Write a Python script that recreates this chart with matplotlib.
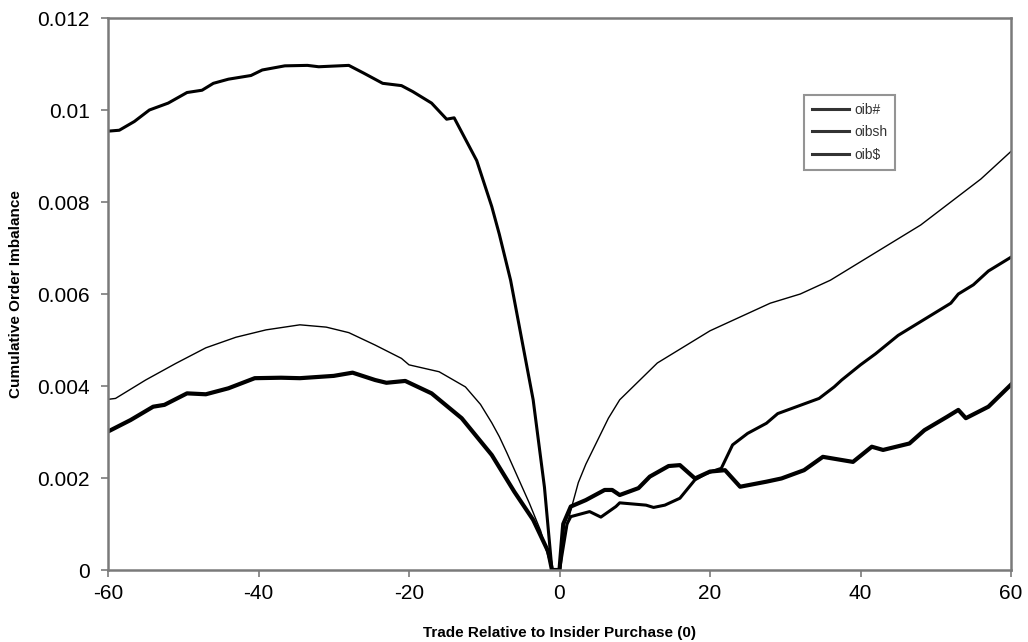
import matplotlib
matplotlib.use("Agg")
import matplotlib.pyplot as plt

plt.rcParams['font.family'] = ['Liberation Sans', 'DejaVu Sans']

# oib# (medium line)
x_num = [-60, -58.5, -56.5, -54.5, -52, -49.5, -47.5, -46, -44, -41, -39.5, -36.5, -33.5, -32,
         -28, -26, -23.5, -21, -19.5, -17, -15, -14, -11, -9, -8, -6.5, -5, -3.5, -2, -1,
         0, 1, 1.5, 4, 5.5, 7.5, 8, 11.5, 12.5, 14, 16, 18, 19.5, 21.5, 23, 25, 27.5, 29,
         31.5, 34.5, 36.5, 37.5, 40, 42, 45, 47, 50, 52, 53, 55, 57, 60]
y_num = [0.00954, 0.00956, 0.00975, 0.0100, 0.01015, 0.01038, 0.01043, 0.01058, 0.01067, 0.01075,
         0.01087, 0.01096, 0.01097, 0.01094, 0.01097, 0.0108, 0.01058, 0.01053, 0.0104, 0.01015,
         0.0098, 0.00983, 0.0089, 0.0079, 0.0073, 0.0063, 0.0050, 0.0037, 0.0018, 0.0,
         0.0, 0.0010, 0.00116, 0.00127, 0.00115, 0.00138, 0.00146, 0.00141, 0.00136, 0.00141,
         0.00156, 0.00196, 0.0021, 0.00221, 0.00272, 0.00297, 0.00319, 0.0034, 0.00355, 0.00373,
         0.00398, 0.00413, 0.00446, 0.0047, 0.0051, 0.0053, 0.0056, 0.0058, 0.0060, 0.0062,
         0.0065, 0.0068]

# oibsh (thin line)
x_sh = [-60, -59, -55, -51, -47, -43, -39, -34.5, -31, -28, -24.5, -21, -20, -16, -12.5, -10.5,
        -9, -8, -7, -5.5, -4, -2.5, -1, 0, 0.5, 1.5, 2.5, 3.5, 5, 6.5, 8, 10.5, 13, 16, 20, 24,
        28, 32, 36, 40, 44, 48, 52, 56, 60]
y_sh = [0.00371, 0.00373, 0.00413, 0.00449, 0.00483, 0.00506, 0.00522, 0.00533, 0.00528, 0.00516,
        0.00489, 0.0046, 0.00446, 0.00431, 0.00398, 0.0036, 0.0032, 0.0029, 0.00255, 0.0020,
        0.00145, 0.00085, 0.0, 0.0, 0.0006, 0.0013, 0.0019, 0.0023, 0.0028, 0.0033, 0.0037,
        0.0041, 0.0045, 0.0048, 0.0052, 0.0055, 0.0058, 0.0060, 0.0063, 0.0067, 0.0071, 0.0075,
        0.0080, 0.0085, 0.0091]

# oib$ (thick line)
x_dol = [-60, -57, -54, -52.5, -49.5, -47, -44, -40.5, -37, -34.5, -30, -27.5, -24.5, -23, -20.5,
         -17, -13, -9, -6, -3.5, -1.5, -1, 0, 0.5, 1.5, 3.5, 6, 7, 8, 10.5, 12, 14.5, 16, 18, 20,
         22, 24, 27.5, 29.5, 32.5, 35, 39, 41.5, 43, 46.5, 48.5, 51.5, 53, 54, 57, 60]
y_dol = [0.00301, 0.00326, 0.00355, 0.00359, 0.00384, 0.00382, 0.00395, 0.00417, 0.00418, 0.00417,
         0.00422, 0.00429, 0.00413, 0.00407, 0.00411, 0.00384, 0.0033, 0.0025, 0.0017, 0.00109,
         0.0004, 0.0, 0.0, 0.001, 0.00138, 0.00152, 0.00174, 0.00174, 0.00163, 0.00178, 0.00203,
         0.00226, 0.00228, 0.00199, 0.00214, 0.00217, 0.00181, 0.00192, 0.00199, 0.00217, 0.00246,
         0.00235, 0.00268, 0.00261, 0.00275, 0.00304, 0.00333, 0.00348, 0.0033, 0.00355, 0.00403]

x_ticks = [-60, -40, -20, 0, 20, 40, 60]
y_ticks = [0, 0.002, 0.004, 0.006, 0.008, 0.01, 0.012]
y_tick_labels = ['0', '0.002', '0.004', '0.006', '0.008', '0.01', '0.012']

fig = plt.figure(figsize=(10.28, 6.42), dpi=100)
ax = fig.add_axes([108/1028, 1 - 570/642, (1011 - 108)/1028, (570 - 18)/642])

ax.plot(x_num, y_num, color='black', lw=2.2, solid_joinstyle='round', label='oib#')
ax.plot(x_sh, y_sh, color='black', lw=1.0, solid_joinstyle='round', label='oibsh')
ax.plot(x_dol, y_dol, color='black', lw=3.0, solid_joinstyle='round', label='oib$')

ax.set_xlim(-60, 60)
ax.set_ylim(0, 0.012)
ax.set_xticks(x_ticks)
ax.set_xticklabels([str(v) for v in x_ticks])
ax.set_yticks(y_ticks)
ax.set_yticklabels(y_tick_labels)

for s in ax.spines.values():
    s.set_color('#7a7a7a')
    s.set_linewidth(1.8)
ax.tick_params(direction='out', length=5, width=1.2, color='#7a7a7a',
               labelsize=15, labelcolor='black')
ax.tick_params(axis='y', pad=8)
ax.tick_params(axis='x', pad=5)

ax.set_xlabel('Trade Relative to Insider Purchase (0)', fontsize=11, fontweight='bold', labelpad=17)
ax.set_ylabel('Cumulative Order Imbalance', fontsize=11, fontweight='bold', labelpad=10)

leg = ax.legend(loc='upper left', bbox_to_anchor=(0.7708, 0.8605), fontsize=10,
                frameon=True, fancybox=False, handlelength=2.7, handletextpad=0.35,
                labelspacing=0.62, borderpad=0.55, borderaxespad=0)
leg.get_frame().set_edgecolor('#7a7a7a')
leg.get_frame().set_linewidth(1.5)
for ln in leg.get_lines():
    ln.set_linewidth(2.2)
    ln.set_color('#333333')
for t in leg.get_texts():
    t.set_color('#333333')

fig.savefig('out.png', dpi=100)
